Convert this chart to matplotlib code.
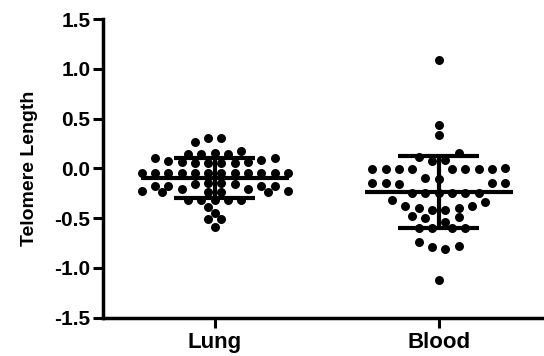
import numpy as np
import matplotlib
matplotlib.use("Agg")
import matplotlib.pyplot as plt

plt.rcParams['font.family'] = ['Liberation Sans', 'DejaVu Sans']
plt.rcParams['font.weight'] = 'bold'

categories = ["Lung", "Blood"]

# values, one list per horizontal row of dots (left to right)
lung_rows = [
    [0.30, 0.30],
    [0.26],
    [0.14, 0.14, 0.15, 0.14, 0.17],
    [0.10, 0.07, 0.06, 0.05, 0.05, 0.05, 0.05, 0.06, 0.08, 0.10],
    [-0.05] * 12,
    [-0.18, -0.18, -0.21, -0.16, -0.15, -0.15, -0.16, -0.21, -0.18, -0.18],
    [-0.23, -0.24, -0.24, -0.24, -0.24, -0.23],
    [-0.32] * 5,
    [-0.39],
    [-0.45],
    [-0.51, -0.51],
    [-0.59],
]
blood_rows = [
    [1.09],
    [0.44],
    [0.33],
    [0.11, 0.07, 0.08, 0.15],
    [-0.01] * 4 + [-0.10, -0.11] + [-0.01] * 4 + [0.00],
    [-0.15, -0.15, -0.16, -0.25, -0.25, -0.25, -0.25, -0.25, -0.25, -0.15, -0.15],
    [-0.32, -0.38, -0.40, -0.42, -0.42, -0.40, -0.38, -0.34],
    [-0.48, -0.50, -0.54, -0.49],
    [-0.60] * 4,
    [-0.74, -0.79, -0.81, -0.78],
    [-1.12],
]
yticks = [-1.5, -1.0, -0.5, 0.0, 0.5, 1.0, 1.5]
ylabel = "Telomere Length"

fig = plt.figure(figsize=(5.44, 3.56), dpi=100)
ax = fig.add_axes([0.189, 0.1076, 0.811, 0.839])
ax.set_xlim(-0.5, 1.47)
ax.set_ylim(-1.5, 1.5)

fig.canvas.draw()
p0 = ax.transData.transform((0, 0))
p1 = ax.transData.transform((1, 1))
px_x = p1[0] - p0[0]
px_y = p1[1] - p0[1]
step = 13.3      # pixel distance between neighbouring dots in a row
min_dist = 8.5   # allowed closest approach of two dot centres (pixels)


def layout(rows):
    placed = []  # (x_px, y_px)
    xs, ys = [], []
    for row in rows:
        n = len(row)
        desired = [(j - (n - 1) / 2) * step for j in range(n)]
        order = sorted(range(n), key=lambda j: abs(desired[j]))
        res = [None] * n
        for j in order:
            y = row[j] * px_y
            d = desired[j]
            cands = d + np.arange(-12, 13) * step / 2
            sgn = np.sign(d) if d != 0 else -1
            cands = sorted(cands, key=lambda c: (abs(c - d), -sgn * np.sign(c - d)))
            for c in cands:
                if all((c - px) ** 2 + (y - py) ** 2 >= min_dist ** 2 for px, py in placed):
                    res[j] = c
                    placed.append((c, y))
                    break
        xs.extend(r / px_x for r in res)
        ys.extend(row)
    return np.array(xs), np.array(ys)


for i, rows in enumerate([lung_rows, blood_rows]):
    offs, vals = layout(rows)
    ax.scatter(i + offs, vals, s=42, color='black', linewidths=0, zorder=2)
    m = np.mean(vals)
    sd = np.std(vals, ddof=1)
    ax.hlines(m, i - 0.33, i + 0.33, color='black', lw=3, zorder=3)
    ax.hlines([m - sd, m + sd], i - 0.18, i + 0.18, color='black', lw=3, zorder=3)
    ax.vlines(i, m - sd, m + sd, color='black', lw=3, zorder=3)

ax.spines['top'].set_visible(False)
ax.spines['right'].set_visible(False)
for s in ['left', 'bottom']:
    ax.spines[s].set_linewidth(2.5)
ax.set_yticks(yticks)
ax.set_yticklabels([f"{t:.1f}" for t in yticks], fontsize=15, fontweight='bold')
ax.set_xticks([0, 1])
ax.set_xticklabels(categories, fontsize=16, fontweight='bold')
ax.tick_params(axis='both', width=2.2, length=7, direction='out')
ax.tick_params(axis='y', pad=2)
ax.tick_params(axis='x', pad=3)
ax.set_ylabel(ylabel, fontsize=14, fontweight='bold', labelpad=12)

fig.savefig("out.png", dpi=100)
